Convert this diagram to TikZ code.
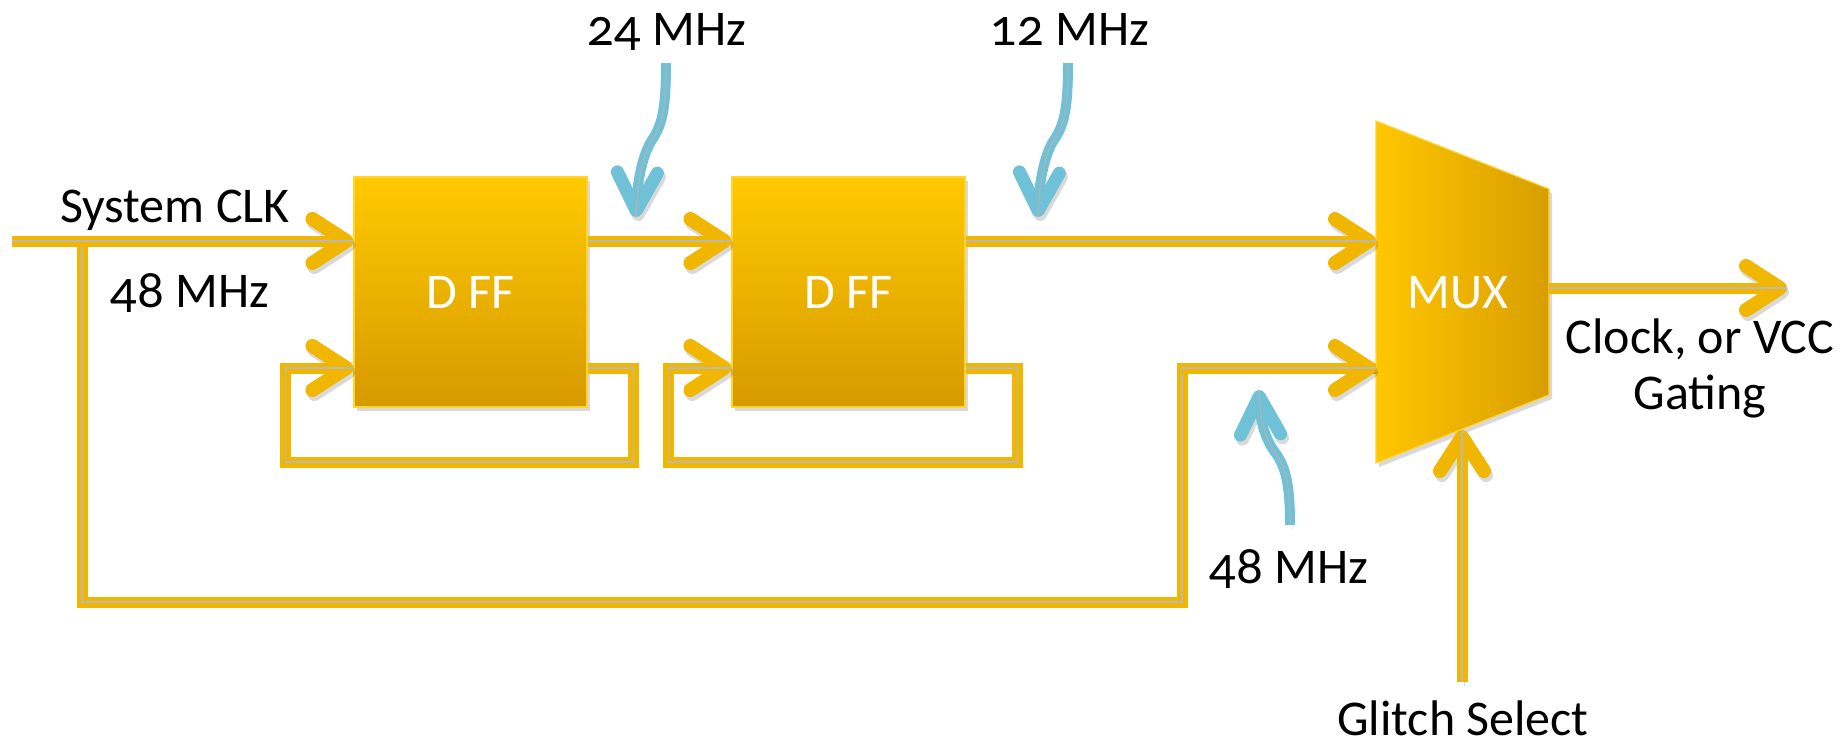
\documentclass[tikz,border=0pt]{standalone}
\usepackage{fontspec}
\setmainfont{Carlito}[Numbers=OldStyle]
\newfontfamily\osf{Lato}[Numbers=OldStyle]
\usetikzlibrary{arrows.meta,calc,shadows}
\definecolor{wy}{RGB}{240,182,0}
\definecolor{boxtop}{RGB}{255,201,0}
\definecolor{boxbot}{RGB}{214,154,0}
\definecolor{muxl}{RGB}{255,198,0}
\definecolor{muxr}{RGB}{216,158,0}
\definecolor{bl}{RGB}{110,193,214}
\begin{document}
\begin{tikzpicture}[x=0.5pt,y=-0.5pt,
  font=\fontsize{25pt}{28pt}\selectfont,
  wire/.style={draw=wy, line width=5.5pt, line join=miter,
     preaction={draw=black, opacity=0.15, transform canvas={xshift=1pt,yshift=-2pt}},
     postaction={draw=gray!55, line width=0.6pt, arrows=-}},
  ytip/.style={-{Straight Barb[length=17pt,width=22pt,line width=7pt,round]}},
  bwire/.style={draw=bl, line width=5pt,
     preaction={draw=black, opacity=0.15, transform canvas={xshift=1pt,yshift=-2pt}},
     postaction={draw=gray!60, line width=0.6pt, arrows=-},
     -{Straight Barb[length=19pt,width=20pt,line width=6.5pt,round]}},
  dff/.style={minimum width=116.5pt, minimum height=115pt, inner sep=0pt,
     top color=boxtop, bottom color=boxbot, draw=boxtop!80!white, line width=0.6pt,
     text=white, drop shadow={opacity=0.3, shadow xshift=1.5pt, shadow yshift=-2pt}},
  lbl/.style={inner sep=0pt, anchor=base, text=black}
]
\useasboundingbox (0,0) rectangle (1844,746);

% coordinates
\coordinate (clkin) at (12,241);
\coordinate (split) at (82,241);
\coordinate (lbot) at (82,602);
\coordinate (rbot) at (1182,602);
\coordinate (min1) at (1376,241);
\coordinate (min2) at (1376,368);
\coordinate (mout) at (1549,288);
\coordinate (outend) at (1787,288);
\coordinate (msel) at (1462,430);
\coordinate (selstart) at (1462,682);
\coordinate (mtl) at (1376,121);
\coordinate (mtr) at (1549,189);
\coordinate (mbr) at (1549,395);
\coordinate (mbl) at (1376,463);

% blocks
\node[dff] (ff1) at (470.5,292) {D FF};
\node[dff] (ff2) at (848.5,292) {D FF};
\path[left color=muxl, right color=muxr, draw=boxtop!80!white, line width=0.6pt,
  drop shadow={opacity=0.3, shadow xshift=1.5pt, shadow yshift=-2pt}]
  (mtl) -- (mtr) -- (mbr) -- (mbl) -- cycle;
\node[lbl, text=white] (mux) at (1458,308) {MUX};

% wires
\draw[wire] (split) -- (lbot) -- (rbot) -- (rbot |- min2) -- (min2);
\draw[wire,ytip] (rbot |- min2) -- (min2);
\draw[wire,ytip] (clkin) -- (clkin -| ff1.west);
\draw[wire,ytip] (clkin -| ff1.east) -- (clkin -| ff2.west);
\draw[wire,ytip] (clkin -| ff2.east) -- (min1);
\draw[wire,ytip] (min2 -| ff1.east) -- ++(46,0) -- ++(0,94) -- ++(-348,0) -- ++(0,-94) -- (min2 -| ff1.west);
\draw[wire,ytip] (min2 -| ff2.east) -- ++(52,0) -- ++(0,94) -- ++(-349,0) -- ++(0,-94) -- (min2 -| ff2.west);
\draw[wire,ytip] (mout) -- (outend);
\draw[wire,ytip] (selstart) -- (msel);

% labels
\node[lbl] (sysclk) at (175,222) {System CLK};
\node[lbl] (f48a) at (190,307) {{\osf 48} MHz};
\node[lbl] (f24) at (667,45) {{\osf 24} MHz};
\node[lbl] (f12) at (1070,45) {{\osf 12} MHz};
\node[lbl] (f48b) at (1289,583) {{\osf 48} MHz};
\node[lbl] (gsel) at (1463,735) {Glitch Select};
\node[inner sep=0pt, align=center] (outlbl) at (1700,368) {Clock, or VCC\\Gating};

% blue pointers
\coordinate (b24) at (666,63);
\coordinate (b12) at (1068,63);
\coordinate (b48) at (1290,525);
\draw[bwire] (b24) .. controls (666,110) and (662,125) .. (652,140) .. controls (642,155) and (637,185) .. (636,217);
\draw[bwire] (b12) .. controls (1068,110) and (1064,125) .. (1054,140) .. controls (1044,155) and (1039,185) .. (1038,217);
\draw[bwire] (b48) .. controls (1290,490) and (1287,470) .. (1277,455) .. controls (1265,440) and (1260,420) .. (1259,390);
\end{tikzpicture}
\end{document}
